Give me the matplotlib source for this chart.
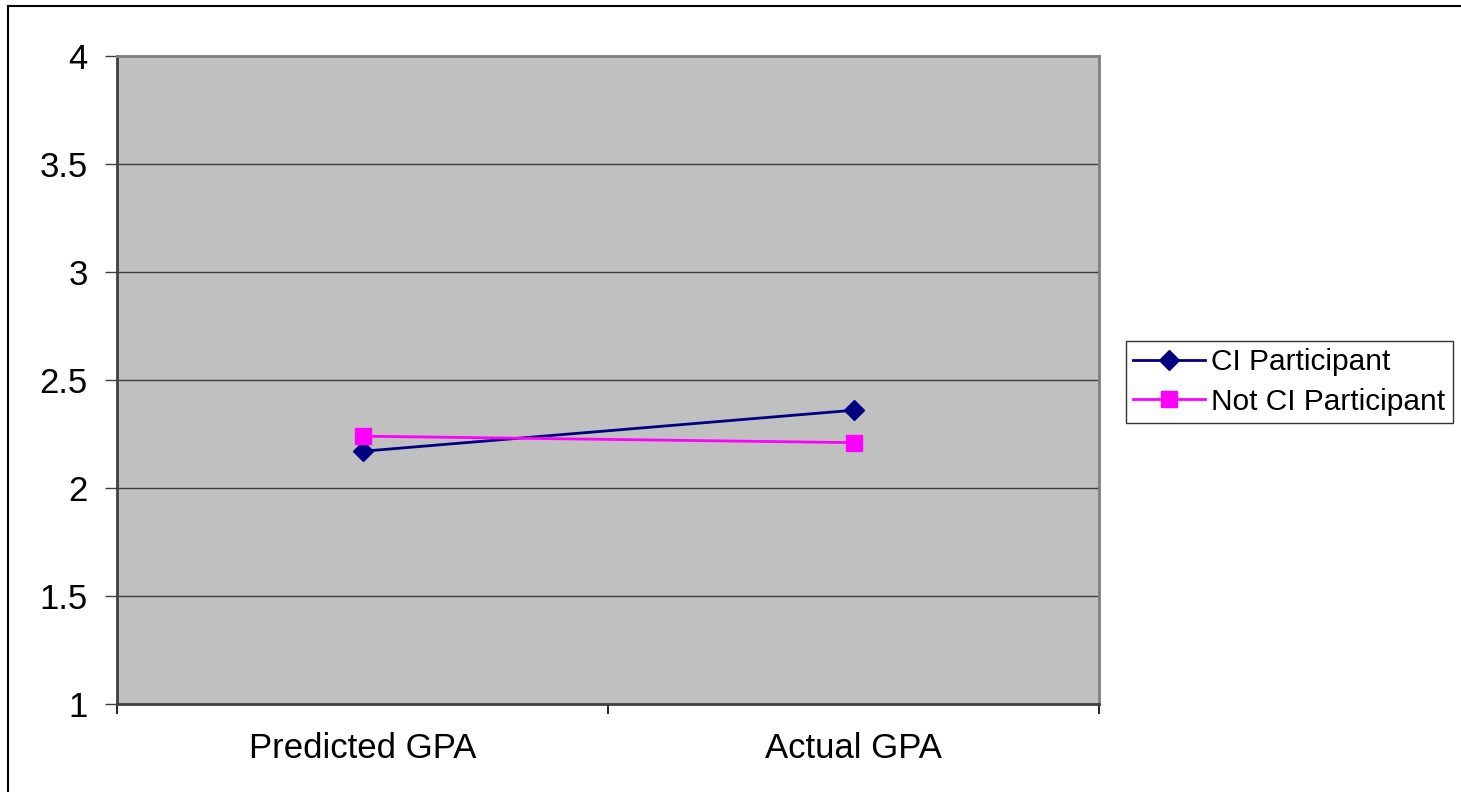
import matplotlib.pyplot as plt
from matplotlib.lines import Line2D

# GPA comparison data
categories = ['Predicted GPA', 'Actual GPA']
ci_participant = [2.17, 2.36]
not_ci_participant = [2.24, 2.21]
series_names = ['CI Participant', 'Not CI Participant']

plt.rcParams['font.family'] = ['Liberation Sans', 'DejaVu Sans']

fig = plt.figure(figsize=(14.61, 7.92), dpi=100)
ax = fig.add_axes([117 / 1461, 88 / 792, 982 / 1461, 648 / 792])
ax.set_facecolor('#C0C0C0')

xpos = [i + 0.5 for i in range(len(categories))]
ax.plot(xpos, ci_participant, color='#000080', lw=2, marker='D', ms=10,
        label=series_names[0], zorder=3)
ax.plot(xpos, not_ci_participant, color='#FF00FF', lw=2, marker='s', ms=12,
        label=series_names[1], zorder=3)

ax.set_xlim(0, 2)
ax.set_ylim(1, 4)
ax.set_yticks([1, 1.5, 2, 2.5, 3, 3.5, 4])
ax.set_yticklabels(['1', '1.5', '2', '2.5', '3', '3.5', '4'])
ax.yaxis.grid(True, color='#404040', lw=1)
ax.set_axisbelow(True)

# boundaries between categories get the tick marks, names sit in between
ax.set_xticks([0, 1, 2])
ax.set_xticklabels(['', '', ''])
ax.set_xticks(xpos, minor=True)
ax.set_xticklabels(categories, minor=True)
ax.tick_params(axis='x', which='major', length=7, width=1.2, color='#000000', direction='out')
ax.tick_params(axis='x', which='minor', length=0, pad=20, labelsize=25)
ax.tick_params(axis='y', length=9, width=1, color='#404040', direction='out', pad=12, labelsize=25)

ax.spines['left'].set_color('#404040')
ax.spines['bottom'].set_color('#404040')
ax.spines['top'].set_color('#808080')
ax.spines['right'].set_color('#808080')
for s in ax.spines.values():
    s.set_linewidth(2)

leg = ax.legend(loc='upper left', bbox_to_anchor=(1126 / 1461, 451 / 792),
                bbox_transform=fig.transFigure, fontsize=21.5, frameon=True,
                fancybox=False, edgecolor='#000000', handlelength=2.4,
                handletextpad=0.2, borderpad=0.25, labelspacing=0.38,
                borderaxespad=0)
leg.get_frame().set_linewidth(1)

# outer chart border (top and left edges only)
fig.add_artist(Line2D([8 / 1461, 8 / 1461], [0, 786 / 792], transform=fig.transFigure,
                      color='#000000', lw=1.5))
fig.add_artist(Line2D([8 / 1461, 1], [786 / 792, 786 / 792], transform=fig.transFigure,
                      color='#000000', lw=1.5))

fig.savefig('out.png', dpi=100, facecolor='white')
